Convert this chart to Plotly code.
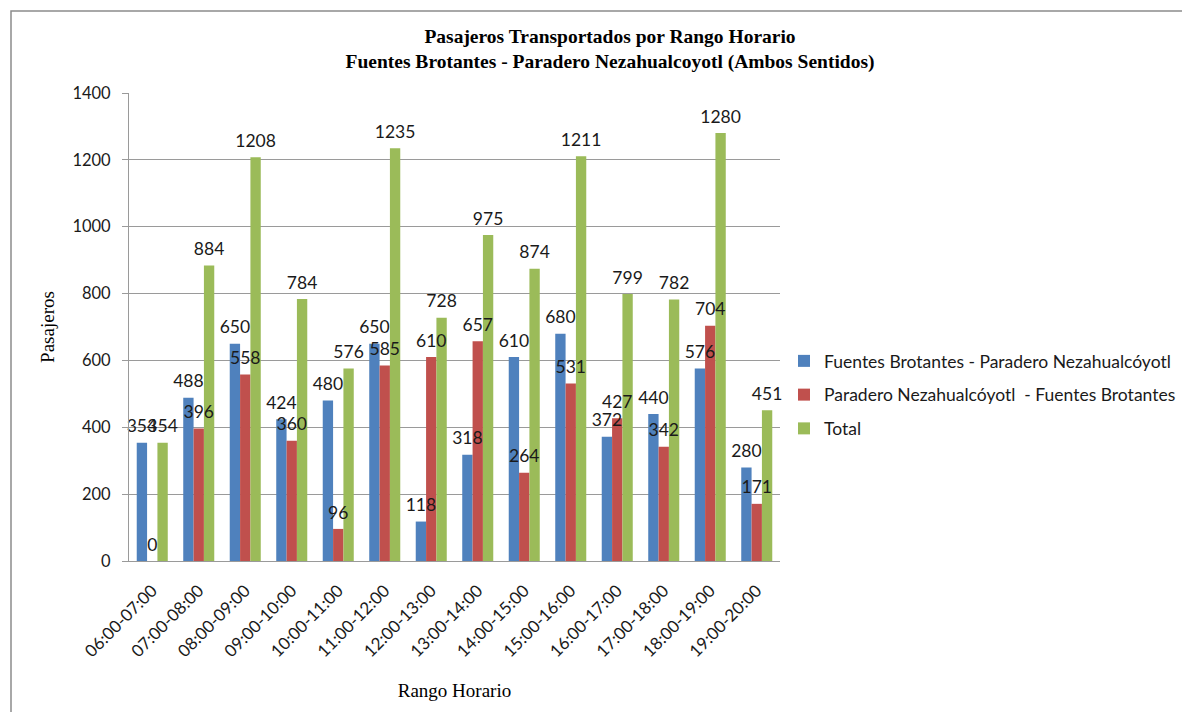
import plotly.graph_objects as go

categories = ["06:00-07:00", "07:00-08:00", "08:00-09:00", "09:00-10:00", "10:00-11:00",
              "11:00-12:00", "12:00-13:00", "13:00-14:00", "14:00-15:00", "15:00-16:00",
              "16:00-17:00", "17:00-18:00", "18:00-19:00", "19:00-20:00"]
fb_pn = [354, 488, 650, 424, 480, 650, 118, 318, 610, 680, 372, 440, 576, 280]
pn_fb = [0, 396, 558, 360, 96, 585, 610, 657, 264, 531, 427, 342, 704, 171]
total = [354, 884, 1208, 784, 576, 1235, 728, 975, 874, 1211, 799, 782, 1280, 451]

series_names = ["Fuentes Brotantes - Paradero Nezahualcóyotl",
                "Paradero Nezahualcóyotl  - Fuentes Brotantes",
                "Total"]
colors = ["#4F81BD", "#C0504D", "#9BBB59"]

# page body has an 8px margin; positions below are compensated
OFF = 8
W, H = 1190 - OFF, 712 - OFF
L, R, T, B = 129 - OFF, 780 - OFF, 93 - OFF, 561 - OFF

GAP = 0.333
SANS = "Lato"
SERIF = "Liberation Serif"
TXT = "#1a1a1a"

fig = go.Figure()
all_vals = [fb_pn, pn_fb, total]
for i, (name, vals) in enumerate(zip(series_names, all_vals)):
    fig.add_trace(go.Bar(
        x=categories, y=vals, name=name,
        marker=dict(color=colors[i], line=dict(width=0)),
        legendgroup=f"g{i}", hoverinfo="x+y+name",
    ))
# data labels drawn on top of all bars
for i, (name, vals) in enumerate(zip(series_names, all_vals)):
    fig.add_trace(go.Scatter(
        x=categories, y=vals, mode="markers+text",
        marker=dict(size=8, color="rgba(0,0,0,0)"),
        text=[str(v) for v in vals], textposition="top center",
        textfont=dict(family=SANS, size=17.5, color=TXT),
        showlegend=False, cliponaxis=False, hoverinfo="skip",
        name=name + " labels",
    ))

fig.update_layout(
    width=W, height=H,
    margin=dict(l=L, r=W - R, t=T, b=H - B, autoexpand=False),
    paper_bgcolor="white", plot_bgcolor="white",
    barmode="group", bargap=GAP, bargroupgap=0,
    scattermode="group", scattergap=GAP,
    title=dict(
        text="Pasajeros Transportados por Rango Horario<br>Fuentes Brotantes - Paradero Nezahualcoyotl (Ambos Sentidos)",
        font=dict(family=SERIF, size=19.5, color="black", weight="bold"),
        x=(610 - OFF) / W, xref="container", xanchor="center",
        y=1 - (43 - OFF) / H, yref="container", yanchor="top",
    ),
    legend=dict(
        x=(784 - OFF - L) / (R - L), xanchor="left",
        y=(B - (395 - OFF)) / (B - T), yanchor="middle",
        font=dict(family=SANS, size=17.5, color=TXT),
        itemwidth=30, tracegroupgap=8, traceorder="grouped",
        bgcolor="rgba(0,0,0,0)",
    ),
    font=dict(family=SANS, size=16.5, color=TXT),
    showlegend=True,
)

fig.update_yaxes(
    range=[0, 1400], dtick=200, tick0=0,
    showgrid=True, gridcolor="#9a9a9a", gridwidth=1,
    showline=True, linecolor="#9a9a9a", linewidth=1,
    ticks="outside", ticklen=6, tickcolor="#9a9a9a",
    ticklabelstandoff=8,
    tickfont=dict(family=SANS, size=16.5, color=TXT),
    zeroline=False,
    title=dict(text="Pasajeros", font=dict(family=SERIF, size=19, color="black"), standoff=12),
)
fig.update_xaxes(
    showline=True, linecolor="#9a9a9a", linewidth=1,
    ticks="", tickangle=-45, ticklabelstandoff=12,
    tickfont=dict(family=SANS, size=17, color=TXT),
    title=dict(text="Rango Horario", font=dict(family=SERIF, size=19, color="black"), standoff=23),
)

# outer frame
fig.add_shape(type="rect", xref="paper", yref="paper",
              x0=(11 - OFF - L) / (R - L), x1=(W + 20 - L) / (R - L),
              y0=(B - (H + 20)) / (B - T), y1=(B - (11 - OFF)) / (B - T),
              line=dict(color="#8c8c8c", width=1.5), fillcolor="rgba(0,0,0,0)", layer="below")

fig.write_html("out.html")
